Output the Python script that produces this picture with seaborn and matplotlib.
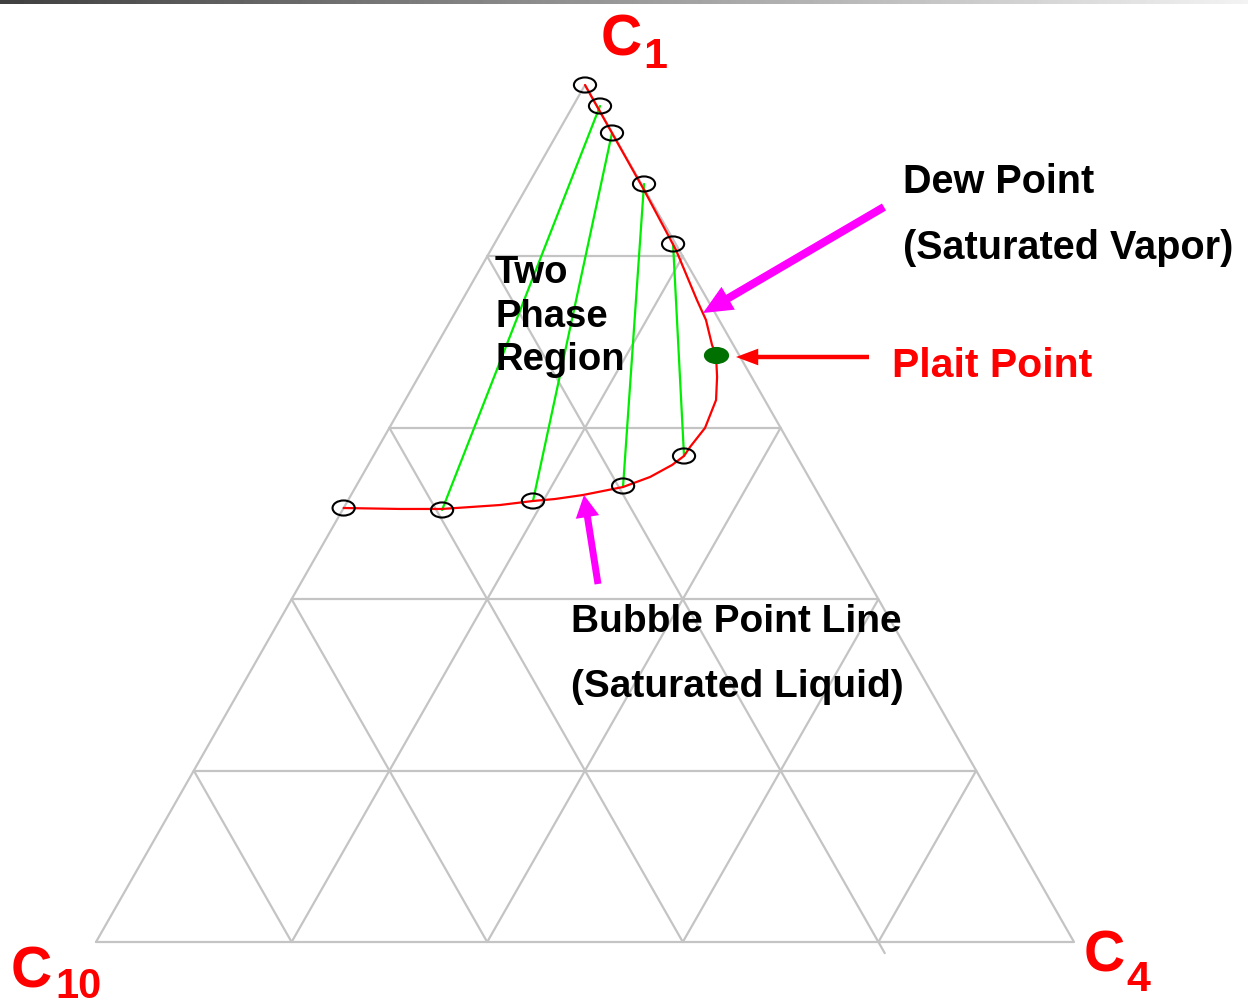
import numpy as np
import pandas as pd
import seaborn as sns
import matplotlib.pyplot as plt
from matplotlib.path import Path

sns.set_theme(style="white")
plt.rcParams['font.family'] = ['Liberation Sans', 'DejaVu Sans']

# ternary diagram C1 (top) - C4 (right) - C10 (left), mole fractions
H = 857 / 978  # drawn height / base of the triangle

grid_levels = [0.2, 0.4, 0.6, 0.8]

# dew point line (saturated vapor), circles
dew_c1 = [1.000, 0.9755, 0.944, 0.8845, 0.8145]
dew_c4 = [0.000, 0.0276, 0.0556, 0.1181, 0.1828]

# bubble point line (saturated liquid), circles
bub_c1 = [0.5064, 0.5041, 0.5146, 0.5321, 0.5671]
bub_c4 = [0.000, 0.1018, 0.1895, 0.2729, 0.3177]

# plait point
plait_c1 = [0.685]
plait_c4 = [0.2915]

# phase envelope, from C1 apex round to the C1-C10 side
env_c1 = [1.000, 0.8775, 0.8075, 0.7491, 0.7258, 0.6966, 0.685, 0.6593, 0.6324,
          0.5998, 0.5776, 0.5671, 0.5566, 0.5426, 0.5309, 0.5216, 0.5169, 0.5146,
          0.5099, 0.5053, 0.5053, 0.5064]
env_c4 = [0.000, 0.1216, 0.1893, 0.2399, 0.2608, 0.2816, 0.2915, 0.3054, 0.3178,
          0.3228, 0.3186, 0.3177, 0.3107, 0.2952, 0.2734, 0.2372, 0.2108, 0.1895,
          0.1581, 0.1012, 0.0582, 0.000]


def tern(c1, c4):
    c1 = np.asarray(c1, dtype=float)
    c4 = np.asarray(c4, dtype=float)
    return c4 + c1 / 2, c1 * H


fig = plt.figure(figsize=(12.48, 10.08), dpi=100)
ax = fig.add_axes([0, 0, 1, 1])
ax.set_xlim(-96 / 978, 1152 / 978)
ax.set_ylim(-66 / 978, 942 / 978)
ax.axis('off')

grid_kw = dict(color='#c4c4c4', lw=1.6, zorder=1)
# outline
x, y = tern([0, 1, 0, 0], [0, 0, 1, 0])
ax.plot(x, y, **grid_kw)
for f in grid_levels:
    x, y = tern([f, f], [0, 1 - f])          # constant C1
    ax.plot(x, y, **grid_kw)
    x, y = tern([0, 1 - f], [f, f])          # constant C4
    ax.plot(x, y, **grid_kw)
    lo = -0.013 if f == 0.2 else 0.0         # this one overshoots the base
    x, y = tern([lo, 1 - f], [1 - f - lo, 0])  # constant C10
    ax.plot(x, y, **grid_kw)

# tie lines
rows = []
for i in range(1, len(dew_c1)):
    for c1, c4 in [(dew_c1[i], dew_c4[i]), (bub_c1[i], bub_c4[i])]:
        px, py = tern(c1, c4)
        rows.append(dict(tie=i, x=float(px), y=float(py)))
ties = pd.DataFrame(rows)
sns.lineplot(data=ties, x='x', y='y', units='tie', estimator=None, sort=False,
             color='#00ee00', lw=1.6, ax=ax, zorder=2)

# phase envelope
ex, ey = tern(env_c1, env_c4)
sns.lineplot(x=ex, y=ey, sort=False, estimator=None, color='red', lw=1.6,
             ax=ax, zorder=3)

# ellipse markers
circ = Path.unit_circle()
ell = Path(circ.vertices * np.array([1.0, 0.68]), circ.codes)

for c1s, c4s in [(dew_c1, dew_c4), (bub_c1, bub_c4)]:
    px, py = tern(c1s, c4s)
    ax.scatter(px, py, marker=ell, s=255, facecolors='none', edgecolors='black',
               linewidths=1.5, zorder=4)

px, py = tern(plait_c1, plait_c4)
ax.scatter(px, py, marker=ell, s=330, color='#007000', linewidths=0, zorder=4)


def fp(x, y):
    return (x, 1008 - y)


# arrows
ax.annotate('', xy=fp(703, 313), xytext=fp(884, 207),
            xycoords='figure pixels', textcoords='figure pixels',
            arrowprops=dict(facecolor='magenta', edgecolor='none', width=5.8,
                            headwidth=19, headlength=21, shrink=0))
ax.annotate('', xy=fp(584, 495), xytext=fp(598, 584),
            xycoords='figure pixels', textcoords='figure pixels',
            arrowprops=dict(facecolor='magenta', edgecolor='none', width=5.0,
                            headwidth=17, headlength=16, shrink=0))
ax.annotate('', xy=fp(736, 357), xytext=fp(869, 357),
            xycoords='figure pixels', textcoords='figure pixels',
            arrowprops=dict(facecolor='red', edgecolor='none', width=3.2,
                            headwidth=12, headlength=16, shrink=0))


def ftext(x, y, s, **kw):
    fig.text(x / 1248, 1 - y / 1008, s, ha='left', va='baseline',
             fontweight='bold', **kw)


# component labels
ftext(601, 55, 'C', fontsize=41, color='red')
ftext(643, 68, '1', fontsize=31, color='red')
ftext(11, 987, 'C', fontsize=41, color='red')
ftext(55, 998, '10', fontsize=30, color='red')
ftext(1084, 971, 'C', fontsize=41, color='red')
ftext(1126, 991, '4', fontsize=31, color='red')

# annotations
ftext(903, 193, 'Dew Point', fontsize=28.5, color='black')
ftext(903, 259, '(Saturated Vapor)', fontsize=28.5, color='black')
ftext(892, 377, 'Plait Point', fontsize=29.5, color='red')
ftext(495, 283, 'Two', fontsize=27.5, color='black')
ftext(495, 327, 'Phase', fontsize=27.5, color='black')
ftext(495, 370, 'Region', fontsize=27.5, color='black')
ftext(571, 632, 'Bubble Point Line', fontsize=28, color='black')
ftext(571, 697, '(Saturated Liquid)', fontsize=28, color='black')

# slide header strip
bar = fig.add_axes([0, 1 - 4 / 1008, 1, 4 / 1008])
bar.imshow(np.linspace(0.25, 0.95, 256)[None, :], cmap='gray', vmin=0, vmax=1,
           aspect='auto')
bar.axis('off')

fig.savefig('out.png', dpi=100)
